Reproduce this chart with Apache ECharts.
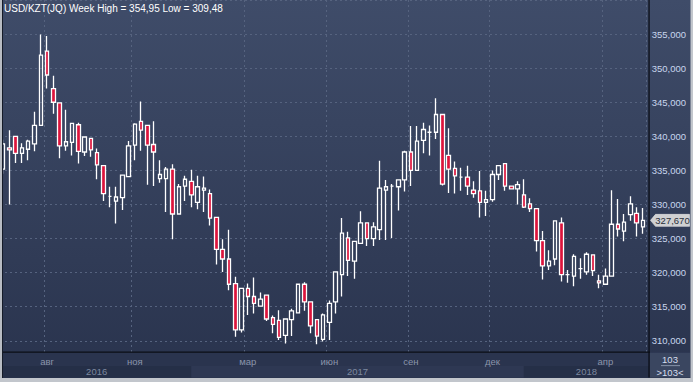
<!DOCTYPE html>
<html><head><meta charset="utf-8">
<script src="https://cdn.jsdelivr.net/npm/echarts@6/dist/echarts.min.js"></script>
<style>html,body{margin:0;padding:0;background:#2b3551;}#c{width:693px;height:382px;}</style>
</head><body><div id="c"></div>
<script>
// ---------- data ----------
const titleText = 'USD/KZT(JQ) Week High = 354,95 Low = 309,48';
const firstWeek = '2016-06-13';
const open  = [335.2,338.3,340.0,337.5,338.1,338.9,341.6,352.5,347.0,344.9,338.6,339.1,341.7,337.7,339.7,337.6,335.7,331.2,330.5,331.0,334.1,338.7,342.2,341.6,338.8,333.8,333.8,335.2,328.6,332.7,333.4,330.3,332.1,331.6,328.1,323.4,322.0,318.4,311.6,317.7,316.5,315.1,316.7,313.4,313.0,310.8,313.1,314.1,318.3,315.7,313.1,310.2,312.7,315.7,319.7,325.1,321.7,324.3,327.3,325.0,326.3,332.1,332.7,332.6,333.6,337.7,335.0,339.4,340.6,340.6,343.2,337.2,335.3,334.0,334.0,332.1,332.0,330.3,330.7,334.4,336.0,332.7,332.3,331.4,330.1,329.4,324.7,321.0,322.0,327.3,319.7,319.5,320.6,320.1,322.6,318.8,318.3,319.5,327.1,326.1,328.5,328.7,326.7];
const close = [338.9,338.0,337.5,338.3,339.3,341.6,351.9,349.0,345.0,338.6,339.2,341.9,337.8,339.9,338.0,335.8,331.6,331.2,331.1,334.3,338.6,341.8,340.9,338.7,337.7,334.4,335.2,328.6,332.6,333.7,331.4,332.6,332.4,328.0,323.4,322.0,318.3,311.6,317.7,316.5,315.5,316.1,313.2,312.4,310.5,313.2,314.4,318.3,315.7,312.2,310.7,313.8,315.5,320.1,325.8,321.8,324.6,327.3,325.0,326.7,332.4,332.6,332.7,333.6,337.7,335.0,339.3,341.0,340.6,343.2,333.0,335.2,334.2,334.0,332.7,331.6,330.3,330.7,334.4,335.7,332.7,332.3,332.9,329.6,329.4,324.7,321.0,321.7,327.6,319.7,319.7,322.4,320.6,322.7,320.3,318.5,319.5,327.1,326.4,327.4,330.1,327.3,327.67];
const low   = [334.5,330.0,336.1,336.1,336.5,337.8,341.6,347.0,343.3,336.8,337.9,337.2,336.0,337.1,337.0,333.7,330.5,329.6,327.2,329.2,334.1,336.5,337.9,332.9,332.7,333.2,328.9,324.9,328.6,330.5,329.6,329.3,328.9,326.9,321.2,320.1,317.4,310.6,311.2,313.8,314.0,315.0,312.9,311.1,310.1,309.6,310.7,314.0,314.4,311.1,309.48,309.9,310.1,314.0,316.5,319.5,319.1,324.3,323.9,323.9,324.8,324.8,325.1,329.1,331.9,332.7,335.0,337.5,337.2,339.6,332.8,331.7,331.6,332.0,331.4,331.0,328.1,328.3,330.4,333.6,332.0,332.3,330.0,329.5,328.9,323.1,319.0,320.4,321.1,318.7,318.5,318.0,319.1,319.7,319.5,317.7,318.3,319.5,325.3,324.6,327.6,325.3,325.7];
const high  = [339.5,340.9,340.0,339.0,339.5,343.6,354.95,354.7,348.9,344.9,343.9,342.0,342.0,339.9,339.7,338.2,335.8,332.6,332.6,334.3,339.3,341.9,345.1,341.6,342.2,336.5,335.5,335.9,333.0,334.2,335.1,334.2,334.1,332.2,328.1,324.9,326.3,319.4,317.7,318.4,319.3,317.1,316.7,313.7,314.5,313.2,314.7,318.4,318.6,315.7,313.1,314.0,315.9,320.2,328.0,326.0,324.6,329.0,327.3,327.4,336.4,333.6,333.0,333.6,337.9,341.5,341.5,342.0,341.6,345.6,343.3,341.2,336.3,335.4,335.7,333.4,334.9,332.0,335.0,335.7,336.0,332.7,333.4,333.7,330.9,329.4,326.1,323.3,327.6,328.1,320.4,322.7,322.1,323.0,322.6,319.7,320.6,332.1,330.8,328.6,331.2,329.6,329.5];
const monthTickIndex  = [7, 21, 39, 52, 65, 78, 96];
const monthTickLabels = ['авг', 'ноя', 'мар', 'июн', 'сен', 'дек', 'апр'];
const yearLabels = ['2016', '2017', '2018'];
const yearStartIndex = [30, 83];
const lastPrice = 327.67;
const barCountLabel = '103';
const barCountSub = '>103<';

// categories: weekly dates
const weeks = [];
{
  const d0 = new Date(firstWeek + 'T00:00:00Z');
  for (let i = 0; i < open.length; i++) {
    const d = new Date(d0.getTime() + i * 7 * 86400000);
    weeks.push(d.toISOString().slice(0, 10));
  }
}
const ohlc = open.map((o, i) => [o, close[i], low[i], high[i]]);

// ---------- chart ----------
const font = '"Liberation Sans", Arial, sans-serif';
const chart = echarts.init(document.getElementById('c'), null, {renderer: 'svg'});
const tickSet = {};
monthTickIndex.forEach((i, k) => { tickSet[i] = monthTickLabels[k]; });
const gridColor = '#56637f';

chart.setOption({
  animation: false,
  backgroundColor: {type: 'linear', x: 0, y: 0, x2: 0, y2: 1,
    colorStops: [{offset: 0, color: '#3f4c69'}, {offset: 1, color: '#29334d'}]},
  grid: {left: -1.14, top: -9.22, width: 647.3, height: 384.1},
  xAxis: {
    type: 'category', data: weeks, boundaryGap: true,
    axisLine: {show: false}, axisTick: {show: false}, axisLabel: {show: false},
    splitLine: {show: true, interval: (i) => (i in tickSet),
      lineStyle: {color: gridColor, type: [2, 3], width: 1}}
  },
  yAxis: {
    type: 'value', position: 'right', min: 305, max: 360, interval: 5, scale: true,
    axisLine: {show: false}, axisTick: {show: false},
    axisLabel: {
      formatter: (v) => (v <= 305 || v >= 360) ? '' : v.toFixed(3).replace('.', ','),
      color: '#c9d6ee', fontSize: 9.5, margin: 5.5, fontFamily: font
    },
    splitLine: {lineStyle: {color: gridColor, type: [2, 3], width: 1}}
  },
  series: [{
    type: 'candlestick', data: ohlc, barWidth: 4,
    itemStyle: {
      color: 'rgba(0,0,0,0)', color0: '#dc143c',
      borderColor: '#ffffff', borderColor0: '#ffffff', borderColorDoji: '#ffffff',
      borderWidth: 1.3
    }
  }]
});

// ---------- decorations positioned from the axes ----------
const px = (i) => chart.convertToPixel({xAxisIndex: 0}, i);
const py = (v) => chart.convertToPixel({yAxisIndex: 0}, v);
const xb1 = px(yearStartIndex[0]);
const xb2 = px(yearStartIndex[1]);
const plotL = 2, plotR = 649, axisY = 352, panelB = 377.5;
const yearBands = [[plotL, xb1], [xb1, xb2], [xb2, plotR]];
const bandColors = ['#252f47', '#2e3853', '#252f47'];
const g = [];
// bottom axis panel
g.push({type: 'rect', z: 100, shape: {x: plotL, y: axisY, width: plotR - plotL, height: panelB - axisY},
  style: {fill: '#2a344e'}});
yearBands.forEach((b, k) => {
  g.push({type: 'rect', z: 101, shape: {x: b[0], y: 366, width: b[1] - b[0], height: panelB - 366},
    style: {fill: bandColors[k]}});
  g.push({type: 'text', z: 103, x: (b[0] + b[1]) / 2, y: 371.5,
    style: {text: yearLabels[k], fill: '#7d889f', font: '9.5px ' + font, align: 'center', verticalAlign: 'middle'}});
});
monthTickIndex.forEach((i, k) => {
  g.push({type: 'text', z: 103, x: px(i), y: 361,
    style: {text: monthTickLabels[k], fill: '#8a95ab', font: '9.5px ' + font, align: 'center', verticalAlign: 'middle'}});
});
// separators
g.push({type: 'rect', z: 104, shape: {x: plotL, y: axisY - 0.6, width: plotR - plotL + 1, height: 1.3}, style: {fill: '#0b0e16'}});
g.push({type: 'rect', z: 104, shape: {x: plotR - 0.6, y: 0, width: 1.3, height: panelB}, style: {fill: '#0b0e16'}});
// bottom-right box
g.push({type: 'rect', z: 100, shape: {x: plotR + 0.7, y: axisY + 0.7, width: 690 - plotR - 0.7, height: panelB - axisY - 0.7},
  style: {fill: '#3a4660'}});
g.push({type: 'text', z: 103, x: 670, y: 359.5,
  style: {text: barCountLabel, fill: '#d6deee', font: '9.5px ' + font, align: 'center', verticalAlign: 'middle'}});
g.push({type: 'rect', z: 103, shape: {x: 661, y: 365.3, width: 19, height: 0.8}, style: {fill: '#9aa6bb'}});
g.push({type: 'text', z: 103, x: 670, y: 372,
  style: {text: barCountSub, fill: '#d6deee', font: '9.5px ' + font, align: 'center', verticalAlign: 'middle'}});
// outer frame
g.push({type: 'rect', z: 110, shape: {x: 0, y: 0, width: 2, height: 382}, style: {fill: '#b8bcc3'}});
g.push({type: 'rect', z: 110, shape: {x: 2, y: 0, width: 1, height: 378}, style: {fill: '#151b28'}});
g.push({type: 'rect', z: 110, shape: {x: 0, y: 378, width: 693, height: 4}, style: {fill: '#c2c6cc'}});
g.push({type: 'rect', z: 110, shape: {x: 690.5, y: 0, width: 2.5, height: 382}, style: {fill: '#c2c6cc'}});
// last price tag
const yp = py(lastPrice);
g.push({type: 'polygon', z: 105,
  shape: {points: [[650.5, yp], [655.5, yp - 6], [689.5, yp - 6], [689.5, yp + 6], [655.5, yp + 6]]},
  style: {fill: '#cfd0d2', stroke: '#e8e8e8', lineWidth: 0.6}});
g.push({type: 'text', z: 106, x: 672.5, y: yp + 0.5,
  style: {text: lastPrice.toFixed(3).replace('.', ','), fill: '#2a2f3a', font: '9.5px ' + font, align: 'center', verticalAlign: 'middle'}});
// title
g.push({type: 'text', z: 106, x: 4, y: 8,
  style: {text: titleText, fill: '#ffffff', font: '10px ' + font, verticalAlign: 'middle'}});
chart.setOption({graphic: {elements: g}});
</script>
</body></html>
